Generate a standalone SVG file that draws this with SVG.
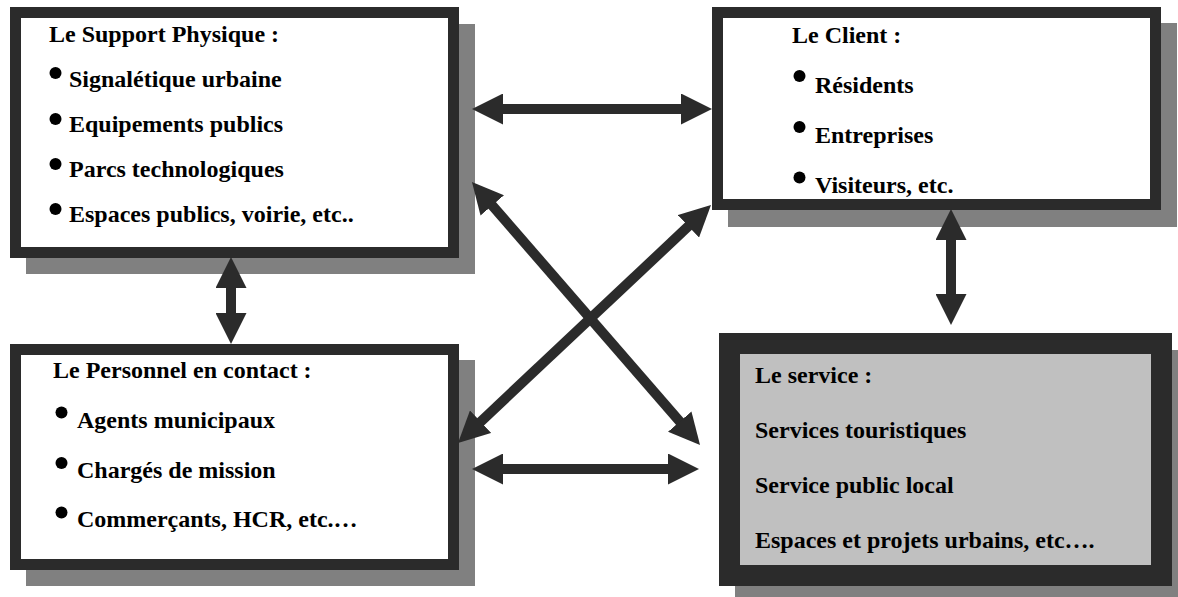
<svg xmlns="http://www.w3.org/2000/svg" width="1178" height="597" viewBox="0 0 1178 597">
<style>
  .shadow { fill: #808080; }
  .box { fill: #ffffff; stroke: #2b2b2b; stroke-width: 11; }
  .box-svc { fill: #c0c0c0; stroke: #2b2b2b; stroke-width: 21; }
  .bullet { fill: #000; }
  .conn { stroke: #2b2b2b; stroke-width: 10; fill: none; marker-start: url(#ah); marker-end: url(#ah); }
</style>
<defs>
  <marker id="ah" markerUnits="strokeWidth" markerWidth="3.1" markerHeight="3.1" refX="0.3" refY="1.55" orient="auto-start-reverse" viewBox="0 0 3.1 3.1">
    <path d="M0,0 L3.1,1.55 L0,3.1 z" fill="#2b2b2b"/>
  </marker>
</defs>
<rect width="1178" height="597" fill="#ffffff"/>

<g id="support-physique" font-family="Liberation Serif, Times New Roman, serif" font-weight="bold" font-size="24">
  <rect class="shadow" x="26" y="24" width="449" height="250"/>
  <rect class="box" x="15.5" y="12.5" width="438" height="240"/>
  <text x="49" y="42">Le Support Physique :</text>
  <circle class="bullet" cx="55.5" cy="73" r="6"/>
  <text x="69" y="87">Signalétique urbaine</text>
  <circle class="bullet" cx="55.5" cy="119" r="6"/>
  <text x="69" y="132">Equipements publics</text>
  <circle class="bullet" cx="55.5" cy="164" r="6"/>
  <text x="69" y="177">Parcs technologiques</text>
  <circle class="bullet" cx="55.5" cy="209" r="6"/>
  <text x="69" y="222">Espaces publics, voirie, etc..</text>
</g>

<g id="client" font-family="Liberation Serif, Times New Roman, serif" font-weight="bold" font-size="24">
  <rect class="shadow" x="728" y="23" width="449" height="204"/>
  <rect class="box" x="717.5" y="12.5" width="438" height="192"/>
  <text x="792" y="43">Le Client :</text>
  <circle class="bullet" cx="799.5" cy="76" r="6"/>
  <text x="815" y="93">Résidents</text>
  <circle class="bullet" cx="799.5" cy="127" r="6"/>
  <text x="815" y="143">Entreprises</text>
  <circle class="bullet" cx="799.5" cy="177.5" r="6"/>
  <text x="815" y="193">Visiteurs, etc.</text>
</g>

<g id="personnel" font-family="Liberation Serif, Times New Roman, serif" font-weight="bold" font-size="24">
  <rect class="shadow" x="26" y="360" width="449" height="226"/>
  <rect class="box" x="15.5" y="349.5" width="438" height="215"/>
  <text x="53" y="378">Le Personnel en contact :</text>
  <circle class="bullet" cx="61.5" cy="412.5" r="6"/>
  <text x="77" y="428">Agents municipaux</text>
  <circle class="bullet" cx="61.5" cy="463" r="6"/>
  <text x="77" y="478">Chargés de mission</text>
  <circle class="bullet" cx="61.5" cy="512.5" r="6"/>
  <text x="77" y="527">Commerçants, HCR, etc.…</text>
</g>

<g id="service" font-family="Liberation Serif, Times New Roman, serif" font-weight="bold" font-size="24">
  <rect class="shadow" x="735" y="350" width="453" height="253"/>
  <rect class="box-svc" x="729.5" y="343.5" width="432" height="232"/>
  <text x="755" y="383">Le service :</text>
  <text x="755" y="438">Services touristiques</text>
  <text x="755" y="493">Service public local</text>
  <text x="755" y="548">Espaces et projets urbains, etc….</text>
</g>

<g id="connectors">
  <line class="conn" x1="500" y1="109" x2="684" y2="109"/>
  <line class="conn" x1="500" y1="469" x2="671" y2="469"/>
  <line class="conn" x1="231" y1="285" x2="231" y2="316"/>
  <line class="conn" x1="951" y1="237" x2="951" y2="297"/>
  <line class="conn" x1="490.3" y1="203.2" x2="681.7" y2="423.8"/>
  <line class="conn" x1="690.6" y1="224.2" x2="478.4" y2="423.8"/>
</g>
</svg>
